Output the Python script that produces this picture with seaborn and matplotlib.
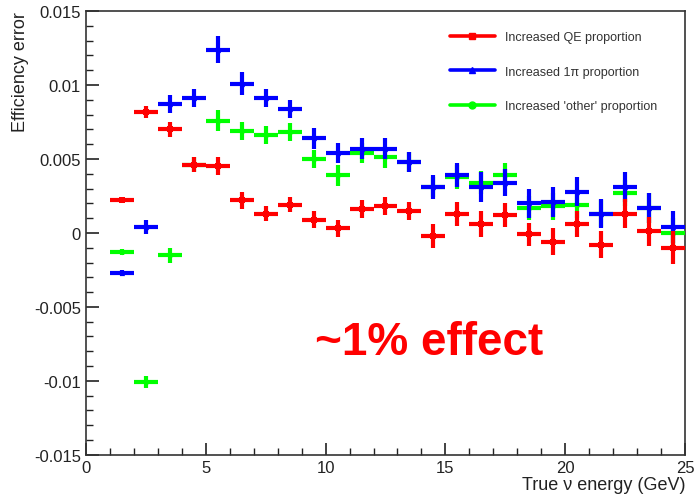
import matplotlib
matplotlib.use("Agg")
import matplotlib.pyplot as plt
import seaborn as sns
import pandas as pd
from matplotlib.lines import Line2D
from matplotlib.ticker import MultipleLocator

# ---- data ----
energy = [1.5, 2.5, 3.5, 4.5, 5.5, 6.5, 7.5, 8.5, 9.5, 10.5, 11.5, 12.5,
          13.5, 14.5, 15.5, 16.5, 17.5, 18.5, 19.5, 20.5, 21.5, 22.5, 23.5, 24.5]
qe = [0.0022, 0.0082, 0.0070, 0.0046, 0.0045, 0.0022, 0.0013, 0.0019, 0.0009, 0.0003,
      0.0016, 0.0018, 0.0015, -0.0002, 0.0013, 0.0006, 0.0012, -0.0001, -0.0006, 0.0006,
      -0.0008, 0.0013, 0.0001, -0.0010]
qe_err = [0.0001, 0.0004, 0.0005, 0.0005, 0.0006, 0.0006, 0.0005, 0.0005, 0.0006, 0.0006,
          0.0006, 0.0006, 0.0006, 0.0008, 0.0008, 0.0009, 0.0008, 0.0008, 0.0009, 0.0009,
          0.0009, 0.0010, 0.0010, 0.0011]
pi1 = [-0.0027, 0.0004, 0.0087, 0.0091, 0.0124, 0.0101, 0.0091, 0.0084, 0.0064, 0.0054,
       0.0057, 0.0057, 0.0048, 0.0031, 0.0039, 0.0031, 0.0034, 0.0020, 0.0021, 0.0028,
       0.0013, 0.0031, 0.0017, 0.0004]
pi1_err = [0.0002, 0.0005, 0.0006, 0.0006, 0.0009, 0.0008, 0.0006, 0.0006, 0.0007, 0.0007,
           0.0007, 0.0007, 0.0007, 0.0008, 0.0008, 0.0010, 0.0009, 0.0010, 0.0010, 0.0010,
           0.0010, 0.0010, 0.0010, 0.0011]
other = [-0.0013, -0.0101, -0.0015, 0.0046, 0.0076, 0.0069, 0.0066, 0.0068, 0.0050, 0.0039,
         0.0054, 0.0051, 0.0048, 0.0031, 0.0038, 0.0034, 0.0039, 0.0017, 0.0018, 0.0019,
         0.0013, 0.0027, 0.0017, 0.0000]
other_err = [0.0002, 0.0004, 0.0005, 0.0005, 0.0007, 0.0006, 0.0006, 0.0006, 0.0006, 0.0007,
             0.0007, 0.0007, 0.0007, 0.0007, 0.0008, 0.0008, 0.0008, 0.0008, 0.0009, 0.0009,
             0.0009, 0.0009, 0.0010, 0.0010]
labels = ["Increased QE proportion", "Increased 1\u03c0 proportion", "Increased 'other' proportion"]
colors = ["#ff0000", "#0000ff", "#00ff00"]
markers = ["s", "^", "o"]

sns.set_style("ticks")
plt.rcParams['font.family'] = ['Liberation Sans', 'DejaVu Sans']

fig = plt.figure(figsize=(6.99, 5.02), dpi=100)
ax = fig.add_axes([0.123, 0.092, 0.857, 0.884])

series = [(qe, qe_err), (pi1, pi1_err), (other, other_err)]
df = pd.concat([pd.DataFrame({"energy": energy, "err": e, "value": v, "series": lab})
                for (v, e), lab in zip(series, labels)], ignore_index=True)

# draw order: green, blue, red on top
for idx in [2, 1, 0]:
    sub = df[df["series"] == labels[idx]]
    ax.errorbar(sub["energy"], sub["value"], xerr=0.5, yerr=sub["err"], fmt="none",
                ecolor=colors[idx], elinewidth=3.0, capsize=0, zorder=3 + (2 - idx))
    sns.scatterplot(data=sub, x="energy", y="value", color=colors[idx], marker=markers[idx],
                    s=14, edgecolor=colors[idx], linewidth=0, ax=ax, legend=False,
                    zorder=4 + (2 - idx))

ax.set_xlim(0, 25)
ax.set_ylim(-0.015, 0.015)
ax.xaxis.set_minor_locator(MultipleLocator(1))
ax.yaxis.set_minor_locator(MultipleLocator(0.001))
ax.set_yticks([-0.015, -0.01, -0.005, 0, 0.005, 0.01, 0.015])
ax.set_yticklabels(["-0.015", "-0.01", "-0.005", "0", "0.005", "0.01", "0.015"])
ax.set_xticks([0, 5, 10, 15, 20, 25])
ax.set_xticklabels(["0", "5", "10", "15", "20", "25"])
ax.tick_params(axis="both", which="major", direction="in", length=9, width=1.2,
               labelsize=12, colors="#222222")
ax.tick_params(axis="both", which="minor", direction="in", length=5, width=1.0,
               colors="#222222")
for sp in ax.spines.values():
    sp.set_linewidth(1.2)
    sp.set_color("#333333")

ax.set_xlabel("True \u03bd energy (GeV)", fontsize=13, loc="right", labelpad=1, color="#222222")
ax.set_ylabel("Efficiency error", fontsize=13, loc="top", labelpad=4, color="#222222")

handles = [Line2D([0], [0], color=c, lw=2.6, marker=m, markersize=5) for c, m in zip(colors, markers)]
leg = ax.legend(handles, labels, loc="upper left", bbox_to_anchor=(0.607, 0.955),
                fontsize=9, frameon=False, handlelength=3.6, handletextpad=0.8,
                labelspacing=1.8, borderpad=0, borderaxespad=0)
for t in leg.get_texts():
    t.set_color("#333333")

ax.text(0.572, 0.255, "~1% effect", transform=ax.transAxes, color="#ff0000",
        fontsize=33, fontweight="bold", ha="center", va="center")

fig.savefig("out.png", dpi=100)
